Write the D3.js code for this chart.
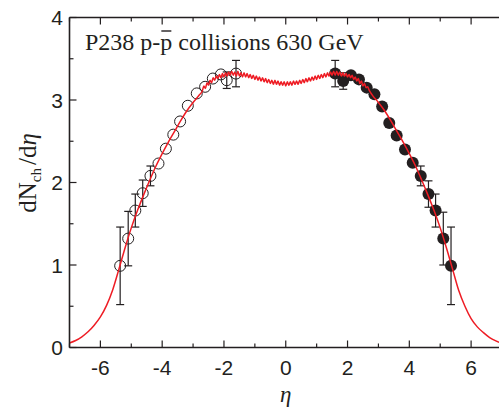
<!DOCTYPE html>
<html>
<head>
<meta charset="utf-8">
<script src="https://cdn.jsdelivr.net/npm/d3@7"></script>
<style>
  body { margin: 0; background: #fff; }
  svg { display: block; }
</style>
</head>
<body>
<svg id="chart" width="499" height="411"></svg>
<script>
// UA5 data reflected: open circles (eta < 0), filled circles (eta > 0)
const openEta = [-1.61, -1.91, -2.10, -2.36, -2.61, -2.88, -3.17, -3.42, -3.64, -3.88, -4.12, -4.38, -4.63, -4.87, -5.10, -5.36]
const openVal = [3.32, 3.24, 3.31, 3.26, 3.16, 3.08, 2.93, 2.74, 2.58, 2.41, 2.23, 2.08, 1.87, 1.66, 1.32, 0.99]
const openErr = [0.16, 0.10, 0, 0, 0, 0, 0, 0, 0, 0, 0, 0.12, 0.16, 0.20, 0.33, 0.47]

const fullEta = [1.60, 1.86, 2.11, 2.37, 2.62, 2.87, 3.12, 3.35, 3.59, 3.86, 4.11, 4.37, 4.62, 4.85, 5.10, 5.35]
const fullVal = [3.32, 3.23, 3.30, 3.25, 3.15, 3.07, 2.92, 2.72, 2.57, 2.40, 2.24, 2.08, 1.86, 1.66, 1.32, 0.99]
const fullErr = [0.16, 0.10, 0, 0, 0, 0, 0, 0, 0, 0, 0, 0.12, 0.16, 0.20, 0.32, 0.47]

// model curve (red): smooth tails + noisy central plateau
const tailLeft = [[-7.0, 0.055], [-6.8, 0.085], [-6.6, 0.13], [-6.4, 0.19], [-6.2, 0.27], [-6.0, 0.37], [-5.8, 0.51], [-5.6, 0.70], [-5.4, 0.95], [-5.2, 1.21], [-5.0, 1.45], [-4.8, 1.66], [-4.6, 1.85], [-4.4, 2.03], [-4.2, 2.20], [-4.0, 2.35], [-3.8, 2.49], [-3.6, 2.62], [-3.4, 2.75], [-3.2, 2.87], [-3.0, 2.97], [-2.8, 3.06]]
const plateauVal = [3.11, 3.17, 3.14, 3.21, 3.18, 3.24, 3.21, 3.27, 3.24, 3.29, 3.26, 3.31, 3.27, 3.32, 3.28, 3.33, 3.29, 3.34, 3.30, 3.35,
  3.30, 3.34, 3.29, 3.35, 3.29, 3.33, 3.28, 3.33, 3.28, 3.32, 3.27, 3.31, 3.26, 3.30, 3.25, 3.29, 3.24, 3.28, 3.23, 3.27,
  3.22, 3.26, 3.21, 3.25, 3.20, 3.24, 3.19, 3.24, 3.19, 3.23, 3.18, 3.22, 3.18, 3.22, 3.17, 3.22, 3.18, 3.22, 3.18, 3.23,
  3.19, 3.23, 3.19, 3.24, 3.20, 3.25, 3.21, 3.26, 3.22, 3.27, 3.23, 3.28, 3.24, 3.29, 3.25, 3.30, 3.26, 3.31, 3.27, 3.32,
  3.28, 3.33, 3.29, 3.34, 3.30, 3.35, 3.30, 3.35, 3.30, 3.34, 3.29, 3.33, 3.29, 3.32, 3.28, 3.31, 3.27, 3.30, 3.25, 3.28,
  3.23, 3.26, 3.20, 3.23, 3.17, 3.20, 3.15, 3.16, 3.12]
const tailRight = [[2.8, 3.06], [3.0, 2.97], [3.2, 2.87], [3.4, 2.75], [3.6, 2.62], [3.8, 2.49], [4.0, 2.35], [4.2, 2.20], [4.4, 2.03], [4.6, 1.85], [4.8, 1.66], [5.0, 1.45], [5.2, 1.21], [5.4, 0.95], [5.6, 0.69], [5.8, 0.50], [6.0, 0.35], [6.2, 0.25], [6.4, 0.18], [6.6, 0.12], [6.8, 0.08], [7.0, 0.05]]

const xTicks = [-6, -4, -2, 0, 2, 4, 6]
const yTicks = [0, 1, 2, 3, 4]

const svg = d3.select('#chart')
const ink = '#231f20'

const x = d3.scaleLinear().domain([-7, 7]).range([69.5, 502])
const y = d3.scaleLinear().domain([0, 4]).range([347.5, 17.5])

const plateau = d3.range(plateauVal.length).map(i => [-2.7 + i * 0.05, plateauVal[i]])
const curve = tailLeft.concat(plateau, tailRight)

// error bars
const errs = openEta.map((e, i) => [e, openVal[i], openErr[i]])
  .concat(fullEta.map((e, i) => [e, fullVal[i], fullErr[i]]))
  .filter(d => d[2] > 0)

const eb = svg.append('g').attr('stroke', ink).attr('stroke-width', 1.2).attr('fill', 'none')
errs.forEach(d => {
  const cx = x(d[0]), top = y(d[1] + d[2]), bot = y(d[1] - d[2])
  eb.append('line').attr('x1', cx).attr('x2', cx).attr('y1', top).attr('y2', bot)
  eb.append('line').attr('x1', cx - 4).attr('x2', cx + 4).attr('y1', top).attr('y2', top)
  eb.append('line').attr('x1', cx - 4).attr('x2', cx + 4).attr('y1', bot).attr('y2', bot)
})

svg.append('g').selectAll('circle')
  .data(openEta.map((e, i) => [e, openVal[i]]))
  .join('circle')
  .attr('cx', d => x(d[0])).attr('cy', d => y(d[1])).attr('r', 5.5)
  .attr('fill', 'none').attr('stroke', ink).attr('stroke-width', 1)

svg.append('g').selectAll('circle')
  .data(fullEta.map((e, i) => [e, fullVal[i]]))
  .join('circle')
  .attr('cx', d => x(d[0])).attr('cy', d => y(d[1])).attr('r', 6)
  .attr('fill', ink)

svg.append('path')
  .datum(curve)
  .attr('fill', 'none')
  .attr('stroke', '#ee1c24')
  .attr('stroke-width', 1.5)
  .attr('d', d3.line().x(d => x(d[0])).y(d => y(d[1])).curve(d3.curveMonotoneX))

// axes (ticks inward)
const axisG = svg.append('g').attr('stroke', ink).attr('stroke-width', 1.6)
axisG.append('line').attr('x1', x(-7)).attr('x2', x(7)).attr('y1', y(0)).attr('y2', y(0))
axisG.append('line').attr('x1', x(-7)).attr('x2', x(7)).attr('y1', y(4)).attr('y2', y(4))
axisG.append('line').attr('x1', x(-7)).attr('x2', x(-7)).attr('y1', y(0)).attr('y2', y(4))

d3.range(-7, 8, 1).forEach(t => {
  const len = t % 2 === 0 ? 7 : 4
  axisG.append('line').attr('x1', x(t)).attr('x2', x(t)).attr('y1', y(0)).attr('y2', y(0) - len).attr('stroke-width', 1.2)
  axisG.append('line').attr('x1', x(t)).attr('x2', x(t)).attr('y1', y(4)).attr('y2', y(4) + len).attr('stroke-width', 1.2)
})
d3.range(0, 4.01, 0.5).forEach(t => {
  const len = t % 1 === 0 ? 7 : 4
  axisG.append('line').attr('x1', x(-7)).attr('x2', x(-7) + len).attr('y1', y(t)).attr('y2', y(t)).attr('stroke-width', 1.2)
})

const tickFont = 'Liberation Sans, Arial, sans-serif'
svg.append('g').selectAll('text')
  .data(xTicks).join('text')
  .attr('x', d => x(d)).attr('y', 374.5)
  .attr('text-anchor', 'middle')
  .attr('font-family', tickFont).attr('font-size', 21).attr('fill', ink)
  .text(d => d)

svg.append('g').selectAll('text')
  .data(yTicks).join('text')
  .attr('x', 63).attr('y', d => y(d) + 7.5)
  .attr('text-anchor', 'end')
  .attr('font-family', tickFont).attr('font-size', 21).attr('fill', ink)
  .text(d => d)

const serif = 'Liberation Serif, Times New Roman, serif'

// x label
svg.append('text')
  .attr('x', x(0)).attr('y', 402)
  .attr('text-anchor', 'middle')
  .attr('font-family', serif).attr('font-style', 'italic').attr('font-size', 23).attr('fill', ink)
  .text('η')

// y label
const yl = svg.append('text')
  .attr('transform', 'translate(36,173) rotate(-90)')
  .attr('text-anchor', 'middle')
  .attr('font-family', serif).attr('font-size', 25).attr('fill', ink)
yl.append('tspan').text('dN')
yl.append('tspan').attr('font-size', 15).attr('dy', 5).text('ch')
yl.append('tspan').attr('dy', -5).attr('dx', 3).text('/d')
yl.append('tspan').attr('font-style', 'italic').text('η')

// title
const title = svg.append('text')
  .attr('x', 85).attr('y', 50)
  .attr('font-family', serif).attr('font-size', 24).attr('fill', ink)
  .text('P238 p-p collisions 630 GeV')
const pBox = title.node().getExtentOfChar(7)
svg.append('line')
  .attr('x1', pBox.x + 1).attr('x2', pBox.x + pBox.width - 1)
  .attr('y1', 31).attr('y2', 31)
  .attr('stroke', ink).attr('stroke-width', 1.4)
</script>
</body>
</html>
